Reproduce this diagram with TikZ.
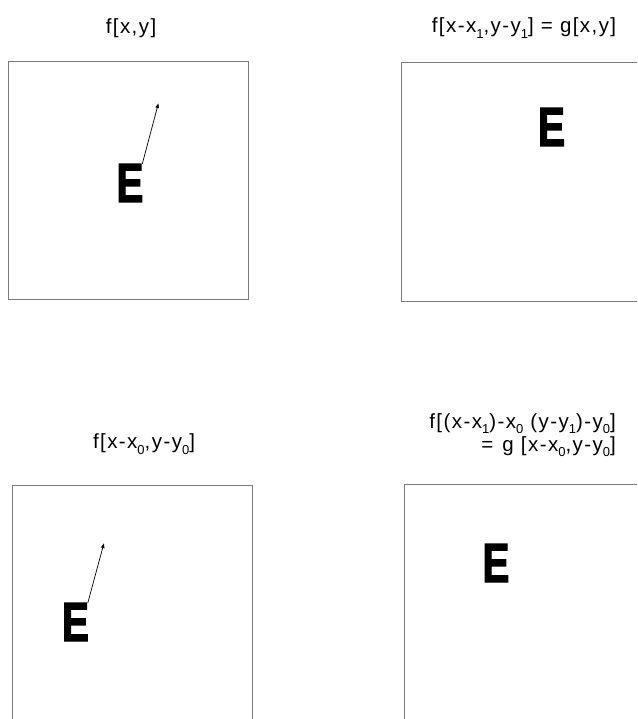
\documentclass[tikz,border=0pt]{standalone}
\usepackage{fontspec}
\setmainfont{Liberation Sans}
\newfontfamily\titlefont[LetterSpace=7]{Liberation Sans}
\newfontfamily\letterfont[FakeBold=2.5]{Liberation Sans Bold}
\newcommand\idx[1]{\raisebox{-0.27em}{\fontsize{13}{13}\selectfont#1}}
\usepackage{tikz}
\usetikzlibrary{arrows.meta}
\definecolor{framegray}{HTML}{7A7A7A}

\begin{document}
\begin{tikzpicture}[x=1pt,y=-1pt,every node/.style={inner sep=0pt},frame/.style={draw=framegray,line width=0.9pt},title/.style={font=\titlefont\fontsize{20.5}{23}\selectfont},letter/.style={font=\letterfont\fontsize{55}{55}\selectfont,anchor=base},vec/.style={-{Latex[length=5pt,width=4pt]},line width=0.7pt}]
\useasboundingbox (0,0) rectangle (637,719);
% frames
\draw[frame] (8,61) rectangle (248,299);
\draw[frame] (637,62) -| (401,301) -- (637,301);
\draw[frame] (12,719) |- (252,485) -- (252,719);
\draw[frame] (404,719) |- (637,484);
% titles
\node[title] (t1) at (131,28) {f[x,y]};
\node[title] (t2) at (524,28) {f[x-x\idx{1},y-y\idx{1}] = g[x,y]};
\node[title] (t3) at (144,444) {f[x-x\idx{0},y-y\idx{0}]};
\node[title,align=right,anchor=east] (t4) at (616,435) {f[(x-x\idx{1})-x\idx{0} (y-y\idx{1})-y\idx{0}]\\= \hspace{0.1em}g [x-x\idx{0},y-y\idx{0}]\hspace{0.2em}};
% letters
\node[letter] (e1) at (130,202) {\scalebox{0.74}[1]{E}};
\node[letter] (e2) at (551.5,146) {\scalebox{0.74}[1]{E}};
\node[letter] (e3) at (75.5,641) {\scalebox{0.74}[1]{E}};
\node[letter] (e4) at (496,582) {\scalebox{0.74}[1]{E}};
\coordinate (tip1) at (158.5,103);
\coordinate (tip3) at (104,543);
\draw[vec] ([xshift=-1.5pt]e1.north east) -- (tip1);
\draw[vec] ([xshift=-1.5pt]e3.north east) -- (tip3);
\end{tikzpicture}
\end{document}
